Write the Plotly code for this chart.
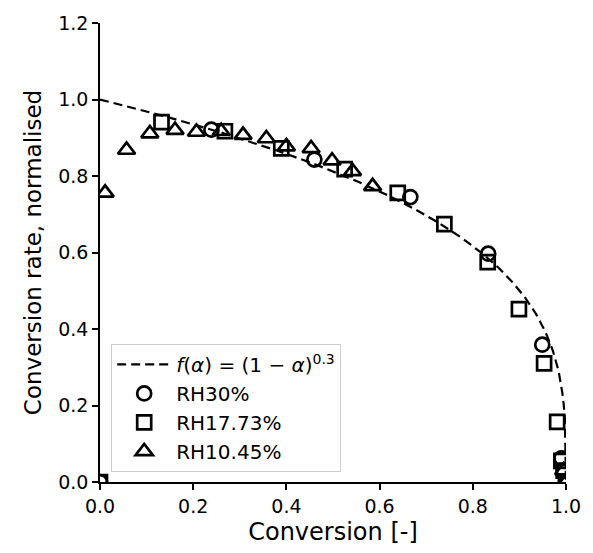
import numpy as np
import plotly.graph_objects as go

# RH30% (circles)
rh30_x = [0.0, 0.239, 0.46, 0.666, 0.833, 0.949, 0.99, 0.995, 1.0]
rh30_y = [0.0, 0.921, 0.843, 0.745, 0.597, 0.359, 0.062, 0.03, 0.0]

# RH17.73% (squares)
rh17_x = [0.0, 0.132, 0.268, 0.389, 0.525, 0.639, 0.739, 0.832, 0.899, 0.953, 0.981, 0.99, 0.995, 1.0]
rh17_y = [0.0, 0.941, 0.917, 0.872, 0.818, 0.756, 0.674, 0.575, 0.452, 0.31, 0.157, 0.055, 0.03, 0.0]

# RH10.45% (triangles)
rh10_x = [0.011, 0.057, 0.107, 0.161, 0.207, 0.26, 0.307, 0.357, 0.40, 0.453, 0.498, 0.542, 0.585, 0.995, 1.0]
rh10_y = [0.756, 0.868, 0.911, 0.92, 0.915, 0.917, 0.907, 0.898, 0.877, 0.872, 0.84, 0.812, 0.773, 0.03, 0.0]

# model f(alpha) = (1 - alpha)^0.3
n_exp = 0.3
alpha = np.linspace(0, 1, 400)
f_alpha = (1 - alpha) ** n_exp

x_ticks = [0.0, 0.2, 0.4, 0.6, 0.8, 1.0]
y_ticks = [0.0, 0.2, 0.4, 0.6, 0.8, 1.0, 1.2]

FONT = "DejaVu Sans"
ms = 14
mlw = 2.7

fig = go.Figure()
fig.add_trace(go.Scatter(
    x=alpha, y=f_alpha, mode="lines",
    line=dict(color="black", width=2.2, dash="9px,5px"),
    name="<i>f</i>(<i>α</i>) = (1 − <i>α</i>)<sup>0.3</sup>",
))
fig.add_trace(go.Scatter(
    x=rh30_x, y=rh30_y, mode="markers", name="RH30%",
    marker=dict(symbol="circle-open", size=ms, color="black", line=dict(width=mlw)),
))
fig.add_trace(go.Scatter(
    x=rh17_x, y=rh17_y, mode="markers", name="RH17.73%",
    marker=dict(symbol="square-open", size=ms, color="black", line=dict(width=mlw)),
))
fig.add_trace(go.Scatter(
    x=rh10_x, y=rh10_y, mode="markers", name="RH10.45%",
    marker=dict(symbol="triangle-up-open", size=ms + 1, color="black", line=dict(width=mlw)),
))

axis_common = dict(
    showline=True, linecolor="black", linewidth=1.5,
    ticks="outside", ticklen=6, tickwidth=1.5, tickcolor="black",
    showgrid=False, zeroline=False, mirror=False,
    tickfont=dict(family=FONT, size=19, color="black"),
    tickformat=".1f",
)

fig.update_layout(
    width=593, height=553,
    margin=dict(l=100, r=26, t=20, b=69),
    plot_bgcolor="white", paper_bgcolor="white",
    font=dict(family=FONT, color="black"),
    xaxis=dict(range=[0, 1.0], tickvals=x_ticks,
               title=dict(text="Conversion [-]", font=dict(family=FONT, size=24), standoff=8),
               **axis_common),
    yaxis=dict(range=[0, 1.2], tickvals=y_ticks,
               title=dict(text="Conversion rate, normalised", font=dict(family=FONT, size=23), standoff=10),
               **axis_common),
    legend=dict(
        x=0.024, y=0.022, xanchor="left", yanchor="bottom",
        bgcolor="rgba(255,255,255,0.8)", bordercolor="#cccccc", borderwidth=1,
        font=dict(family=FONT, size=20, color="black"),
        tracegroupgap=0, itemwidth=54,
    ),
    showlegend=True,
)

fig.write_html("out.html")
